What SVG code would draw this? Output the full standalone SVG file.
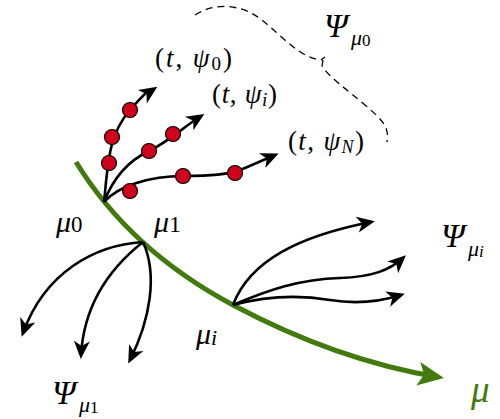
<svg xmlns="http://www.w3.org/2000/svg" width="500" height="419" viewBox="0 0 500 419">
<style>
.ln{fill:none;stroke:#000;stroke-width:2.6;marker-end:url(#ah)}
.dot{fill:#d0021b;stroke:#000;stroke-width:1.2}
.t{font-family:"Liberation Serif",serif;font-size:27px;fill:#000}
.i{font-style:italic}
.n{font-style:normal}
.big{font-family:"Liberation Serif",serif;font-size:34px;font-style:italic;fill:#000}
.mu{font-family:"Liberation Serif",serif;font-size:30px;font-style:italic;fill:#000}
</style>
<defs>
<marker id="ah" markerUnits="userSpaceOnUse" viewBox="-16 -9 21 18" refX="0" refY="0" markerWidth="21" markerHeight="18" orient="auto">
<path d="M4,0 L-14,-8 L-9,0 L-14,8 Z" fill="#000"/>
</marker>
<marker id="gah" markerUnits="userSpaceOnUse" viewBox="-22 -14 30 28" refX="0" refY="0" markerWidth="30" markerHeight="28" orient="auto">
<path d="M6,0 L-20,-12 L-14,0 L-20,12 Z" fill="#437a0e"/>
</marker>
</defs>
<g id="axis">
<path d="M76,162 Q130,250 233,305 T438,377" fill="none" stroke="#437a0e" stroke-width="5" marker-end="url(#gah)"/>
<text x="471" y="402" font-family="Liberation Serif,serif" font-style="italic" font-size="37" fill="#437a0e">μ</text>
</g>
<g id="connectors">
<path class="ln" d="M104,202 C108,165 108,135 130,110 S148,93 154,89"/>
<path class="ln" d="M104,202 C114,176 130,160 149,151 S185,126 201,116"/>
<path class="ln" d="M104,202 C118,186 150,176 183,176 C210,176 228,175 245,168 L275,155"/>
<path class="ln" d="M143,242 C95,245 45,272 23,333"/>
<path class="ln" d="M143,242 C110,268 84,305 81,355"/>
<path class="ln" d="M143,242 C158,275 150,320 130,360"/>
<path class="ln" d="M233,305 C250,260 300,236 371,222"/>
<path class="ln" d="M233,305 C268,290 300,279 340,278 C372,277 390,270 403,258"/>
<path class="ln" d="M233,305 C270,295 300,295 330,300 S382,301 401,295"/>
<path d="M195,15 C215,2 242,4 262,20 S300,58 321,60 L325,57 M323,60 L322,66 C330,78 345,88 365,105 S389,128 387,142" fill="none" stroke="#000" stroke-width="1.3" stroke-dasharray="7,5"/>
</g>
<g id="samples">
<circle class="dot" cx="109" cy="163" r="7.5"/>
<circle class="dot" cx="112" cy="137" r="7.5"/>
<circle class="dot" cx="130" cy="110" r="7.5"/>
<circle class="dot" cx="149" cy="151" r="7.5"/>
<circle class="dot" cx="173" cy="134" r="7.5"/>
<circle class="dot" cx="130" cy="191" r="7.5"/>
<circle class="dot" cx="183" cy="176" r="7.5"/>
<circle class="dot" cx="235" cy="173" r="7.5"/>
</g>
<g id="labels">
<text class="t" x="155" y="67" textLength="77" lengthAdjust="spacing">(<tspan class="i">t</tspan>, <tspan class="i">ψ</tspan><tspan font-size="19" dy="3">0</tspan><tspan dy="-3">)</tspan></text>
<text class="t" x="212" y="103" textLength="65" lengthAdjust="spacing">(<tspan class="i">t</tspan>, <tspan class="i">ψ</tspan><tspan class="i" font-size="19" dy="3">i</tspan><tspan dy="-3">)</tspan></text>
<text class="t" x="288" y="150" textLength="76" lengthAdjust="spacing">(<tspan class="i">t</tspan>, <tspan class="i">ψ</tspan><tspan class="i" font-size="18" dy="3">N</tspan><tspan dy="-3">)</tspan></text>
<text class="big" x="324" y="37">Ψ<tspan font-size="22" dx="3" dy="8">μ</tspan><tspan class="n" font-size="17" dy="1">0</tspan></text>
<text class="mu" x="56" y="232">μ<tspan class="n" font-size="23">0</tspan></text>
<text class="mu" x="154" y="232">μ<tspan class="n" font-size="24">1</tspan></text>
<text class="mu" x="196" y="344">μ<tspan font-size="22" dy="1">i</tspan></text>
<text class="big" x="441" y="247">Ψ<tspan font-size="22" dx="3" dy="9">μ</tspan><tspan font-size="17" dy="1">i</tspan></text>
<text class="big" x="52" y="404">Ψ<tspan font-size="22" dx="3" dy="8">μ</tspan><tspan class="n" font-size="17" dy="1">1</tspan></text>
</g>
</svg>
